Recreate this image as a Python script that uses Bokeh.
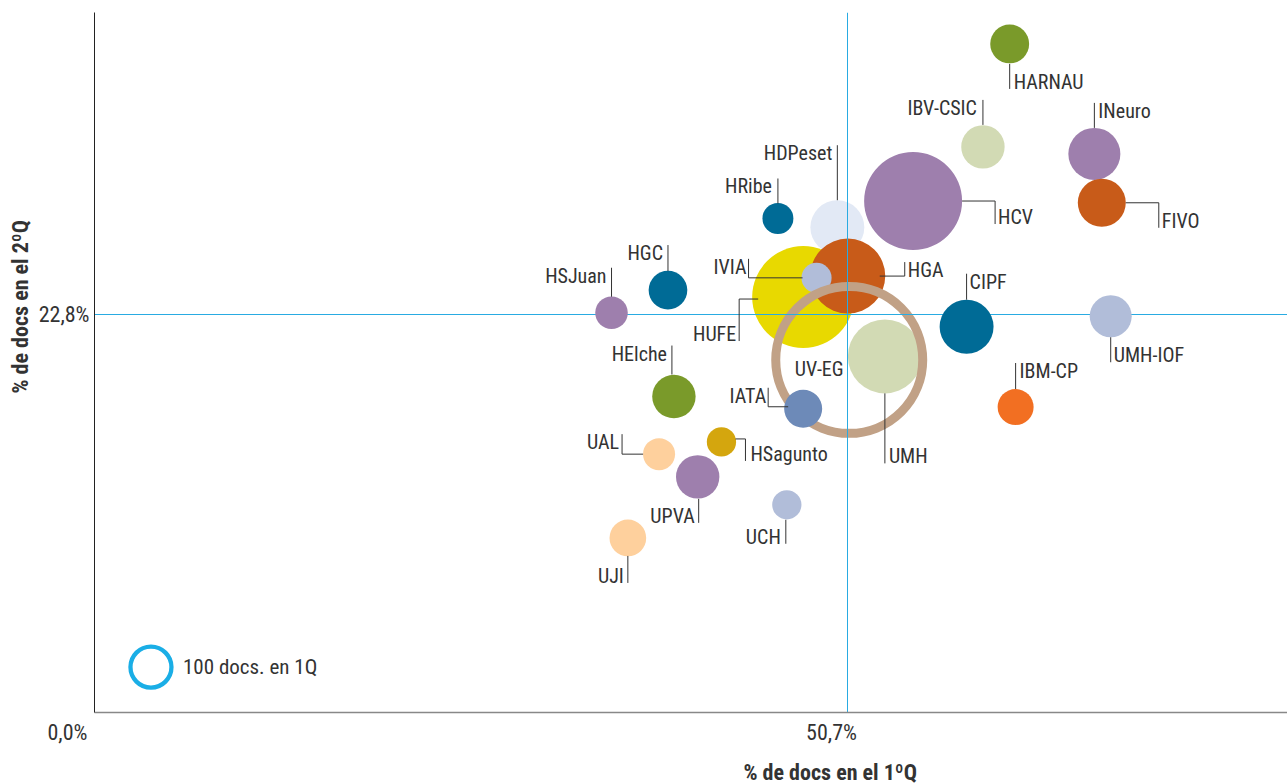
import math
import pandas as pd
from bokeh.plotting import figure
from bokeh.models import ColumnDataSource, FixedTicker, Label, Range1d, CustomJSTickFormatter, Title
from bokeh.core.properties import value
from bokeh.embed import file_html
from bokeh.resources import INLINE

# ---------------- data (drawing order: back group first) ----------------
names = ["HDPeset", "HUFE", "HGA", "IVIA", "HCV", "UMH", "UV-EG",
         "HARNAU", "IBV-CSIC", "INeuro", "FIVO", "HRibe", "HGC", "HSJuan",
         "CIPF", "UMH-IOF", "IBM-CP", "HElche", "IATA", "HSagunto", "UAL",
         "UPVA", "UCH", "UJI"]
pct_q1 = [50.0, 47.7, 50.7, 48.6, 55.1, 53.2, 50.8,
          61.6, 59.8, 67.3, 67.8, 46.0, 38.6, 34.8,
          58.7, 68.4, 62.0, 39.0, 47.7, 42.2, 38.0,
          40.6, 46.6, 35.9]
pct_q2 = [27.8, 23.8, 25.0, 24.9, 29.3, 20.4, 20.2,
          38.3, 32.4, 32.0, 29.2, 28.3, 24.2, 22.9,
          22.1, 22.7, 17.5, 18.1, 17.4, 15.5, 14.8,
          13.5, 11.9, 10.0]
docs_q1 = [173, 619, 335, 54, 571, 326, 1285,
           90, 112, 161, 137, 57, 89, 63,
           173, 105, 77, 112, 86, 51, 61,
           112, 51, 80]
colors = ["#e2e9f5", "#e8d900", "#c85b19", "#b1bdd9", "#9e7fad", "#d2dab4", "#c1a186",
          "#7a9a2a", "#d2dab4", "#9e7fad", "#c85b19", "#006b96", "#006b96", "#9e7fad",
          "#006b96", "#b1bdd9", "#f26f22", "#7a9a2a", "#6d8ab8", "#d4a60e", "#fed09d",
          "#9e7fad", "#b1bdd9", "#fed09d"]
ring_names = ["UV-EG"]
N_BACK = 7

REF_X = 50.7   # average % docs in Q1
REF_Y = 22.8   # average % docs in Q2
x_ticks = [0.0, 50.7]
y_ticks = [22.8]
legend_docs = 100
x_title = "% de docs en el 1ºQ"
y_title = "% de docs en el 2ºQ"

# ---------------- layout / style ----------------
W, H = 1287, 784
ML, MR, MT, MB = 94, 0, 12, 72
X_MAX, Y_MAX = 80.3, 40.1
FRAME_W, FRAME_H = W - ML - MR, H - MT - MB
KX, KY = FRAME_W / X_MAX, FRAME_H / Y_MAX
R100 = 20.5  # screen radius of a 100-doc bubble

FONT = "Roboto Condensed"
TXT = "#333333"
CYAN = "#29abe2"

# leader lines: path offsets (px, y down) from bubble centre, text offset, align, baseline
LEAD = {
    "HARNAU":   ([(0, 20), (0, 45)], (4, 45), "left", "bottom"),
    "IBV-CSIC": ([(0, -22), (0, -47)], (-6, -47), "right", "top"),
    "INeuro":   ([(0, -26), (0, -51)], (4, -51), "left", "top"),
    "HCV":      ([(49, 0), (82, 0), (82, 23)], (85, 23), "left", "bottom"),
    "FIVO":     ([(24, 0), (57, 0), (57, 25)], (60, 25), "left", "bottom"),
    "HGA":      ([(32, 0), (57, 0), (57, -14)], (60, -14), "left", "top"),
    "HDPeset":  ([(0, -27), (0, -82)], (-5, -82), "right", "top"),
    "HRibe":    ([(0, -15), (0, -40)], (-6, -40), "right", "top"),
    "HGC":      ([(0, -19), (0, -45)], (-5, -45), "right", "top"),
    "HSJuan":   ([(0, -16), (0, -45)], (-5, -45), "right", "top"),
    "IVIA":     ([(-14, 0), (-68, 0), (-68, -19)], (-70, -19), "right", "top"),
    "HUFE":     ([(-45, 2), (-64, 2), (-64, 44)], (-67, 44), "right", "bottom"),
    "UV-EG":    ([], (-30, 9), "center", "middle"),
    "UMH":      ([(0, 37), (0, 107)], (4, 107), "left", "bottom"),
    "CIPF":     ([(0, -27), (0, -53)], (3, -53), "left", "top"),
    "UMH-IOF":  ([(0, 21), (0, 46)], (3, 46), "left", "bottom"),
    "IBM-CP":   ([(0, -18), (0, -44)], (4, -44), "left", "top"),
    "HElche":   ([(-2, -22), (-2, -51)], (-7, -51), "right", "top"),
    "IATA":     ([(-15, -2), (-35, -2), (-35, -21)], (-37, -21), "right", "top"),
    "HSagunto": ([(14, -3), (24, -3), (24, 19)], (29, 19), "left", "bottom"),
    "UAL":      ([(-16, 0), (-37, 0), (-37, -20)], (-40, -20), "right", "top"),
    "UPVA":     ([(1, 22), (1, 46)], (-3, 46), "right", "bottom"),
    "UCH":      ([(-1, 15), (-1, 39)], (-6, 39), "right", "bottom"),
    "UJI":      ([(0, 18), (0, 45)], (-4, 45), "right", "bottom"),
}

df = pd.DataFrame(dict(name=names, x=pct_q1, y=pct_q2, docs=docs_q1, color=colors))
df["size"] = [2 * R100 * math.sqrt(d / 100.0) for d in df["docs"]]
df["ring"] = df["name"].isin(ring_names)

p = figure(width=W, height=H, x_range=Range1d(0, X_MAX), y_range=Range1d(0, Y_MAX),
           output_backend="svg", toolbar_location=None, title=None,
           min_border_left=ML, min_border_right=MR, min_border_top=MT, min_border_bottom=MB)
p.background_fill_color = "white"
p.border_fill_color = "white"
p.outline_line_color = None
p.xgrid.visible = False
p.ygrid.visible = False

# x labels sit left of their tick: pad with trailing figure spaces
xfmt = CustomJSTickFormatter(code="""
const s = tick.toFixed(1).replace('.', ',') + '%';
const pad = tick < 1 ? 5 : 3;
return s + '\\u2007'.repeat(pad);
""")
yfmt = CustomJSTickFormatter(code="return tick.toFixed(1).replace('.', ',') + '%';")
for ax, ticks, fm in ((p.xaxis[0], x_ticks, xfmt), (p.yaxis[0], y_ticks, yfmt)):
    ax.ticker = FixedTicker(ticks=ticks)
    ax.formatter = fm
    ax.major_tick_line_color = None
    ax.minor_tick_line_color = None
    ax.major_tick_out = 0
    ax.major_tick_in = 0
    ax.major_label_text_font = FONT
    ax.major_label_text_font_size = "22px"
    ax.major_label_text_color = TXT
p.xaxis.axis_line_color = "#888888"
p.xaxis.axis_line_width = 1.5
p.yaxis.axis_line_color = "#222222"
p.xaxis.major_label_standoff = 7
p.yaxis.major_label_standoff = 5
# thin spacer under the x tick labels so the x title sits lower
p.xaxis.axis_label = " "
p.xaxis.axis_label_text_font_size = "7px"
p.xaxis.axis_label_standoff = 0


def draw_bubbles(sub):
    filled = sub[~sub["ring"]]
    rings = sub[sub["ring"]]
    if len(filled):
        p.scatter(x="x", y="y", size="size", fill_color="color", line_color=None,
                  source=ColumnDataSource(filled))
    if len(rings):
        p.scatter(x="x", y="y", size="size", fill_color=None, line_color="color",
                  line_width=9, source=ColumnDataSource(rings))


back = df.iloc[:N_BACK]
front = df.iloc[N_BACK:]
draw_bubbles(back)

# average reference lines
p.hspan(y=[REF_Y], line_color=CYAN, line_width=1)
p.vspan(x=[REF_X], line_color=CYAN, line_width=1)

draw_bubbles(front)

# leader lines
xs, ys = [], []
for _, r in df.iterrows():
    path = LEAD[r["name"]][0]
    if path:
        xs.append([r["x"] + dx / KX for dx, dy in path])
        ys.append([r["y"] - dy / KY for dx, dy in path])
p.multi_line(xs=xs, ys=ys, line_color="#333333", line_width=1)

# labels grouped by alignment
groups = {}
for _, r in df.iterrows():
    _, (tx, ty), al, bl = LEAD[r["name"]]
    if bl == "top":
        ty -= 4
    elif bl == "bottom":
        ty -= 7
    groups.setdefault((al, bl), dict(x=[], y=[], t=[], xo=[], yo=[]))
    g = groups[(al, bl)]
    g["x"].append(r["x"]); g["y"].append(r["y"]); g["t"].append(r["name"])
    g["xo"].append(tx); g["yo"].append(ty)
for (al, bl), g in groups.items():
    src = ColumnDataSource(g)
    p.text(x="x", y="y", text="t", x_offset="xo", y_offset="yo", source=src,
           text_align=al, text_baseline=("alphabetic" if bl == "bottom" else bl),
           text_font=value(FONT), text_font_size="20px", text_color=TXT)

# size legend
LEG_X, LEG_Y = 3.8, 2.6
p.scatter(x=[LEG_X], y=[LEG_Y], size=2 * R100 * math.sqrt(legend_docs / 100.0),
          fill_color=None, line_color="#1aaee6", line_width=4.3)
p.add_layout(Label(x=LEG_X, y=LEG_Y, x_offset=32, y_offset=0,
                   text=f"{legend_docs} docs. en 1Q", text_font=FONT,
                   text_font_size="21px", text_color=TXT, text_baseline="middle"))

# axis titles
p.add_layout(Title(text=x_title, align="left", offset=649, text_font=FONT,
                   text_font_size="22px", text_font_style="bold", text_color=TXT,
                   standoff=0), "below")
p.add_layout(Title(text=y_title, align="left", offset=319, text_font=FONT,
                   text_font_size="22px", text_font_style="bold", text_color=TXT,
                   standoff=6), "left")

open("out.html", "w").write(file_html(p, INLINE))
